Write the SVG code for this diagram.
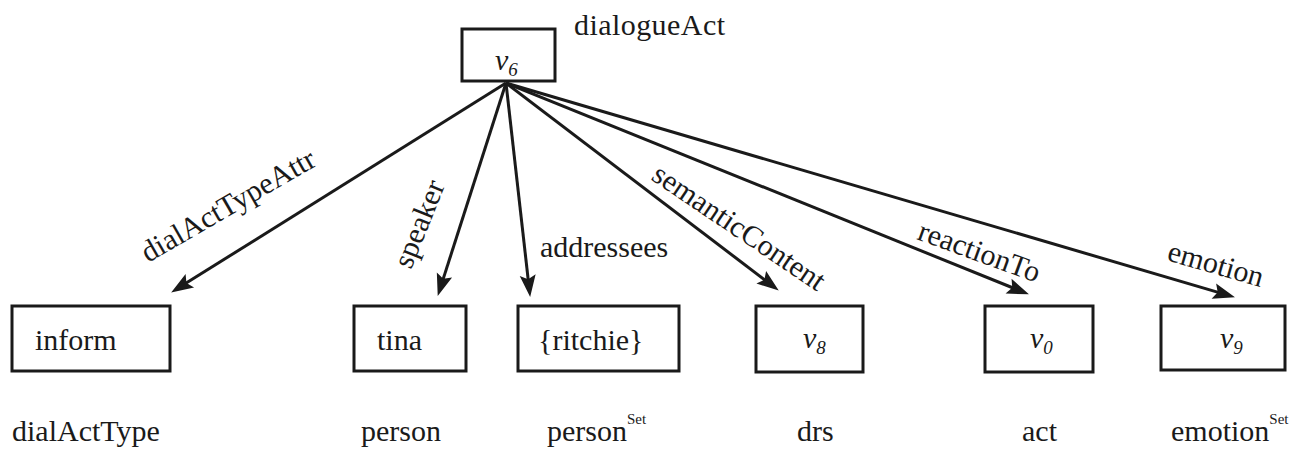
<svg xmlns="http://www.w3.org/2000/svg" width="1292" height="450" viewBox="0 0 1292 450">
<style>
text{font-family:"Liberation Serif","Times New Roman",serif;font-size:30px;fill:#1a1a1a}
.box{fill:#fff;stroke:#1a1a1a;stroke-width:3}
.edge{stroke:#1a1a1a;stroke-width:3;fill:none;marker-end:url(#ah)}
.it{font-style:italic}
.sub{font-style:italic;font-size:19px}
.sup{font-size:15px}
</style>
<defs>
<marker id="ah" markerUnits="userSpaceOnUse" markerWidth="24" markerHeight="18" refX="9" refY="8" orient="auto" overflow="visible">
<path d="M0,0 L22,8 L0,16 L4,8 z" fill="#1a1a1a"/>
</marker>
</defs>
<rect width="1292" height="450" fill="#fff"/>
<g id="connectors">
<line class="edge" x1="506" y1="83" x2="182.2" y2="285.6"/>
<line class="edge" x1="506" y1="83" x2="441.7" y2="283.6"/>
<line class="edge" x1="506" y1="83" x2="528.7" y2="284.1"/>
<line class="edge" x1="506" y1="83" x2="768.4" y2="282.7"/>
<line class="edge" x1="506" y1="83" x2="1016.9" y2="289.5"/>
<line class="edge" x1="506" y1="83" x2="1222.5" y2="293.6"/>
<text transform="translate(148,263) rotate(-30)">dialActTypeAttr</text>
<text transform="translate(411,270) rotate(-68)">speaker</text>
<text x="540" y="257">addressees</text>
<text transform="translate(650,179) rotate(34)">semanticContent</text>
<text transform="translate(916,239) rotate(20)">reactionTo</text>
<text transform="translate(1166,260) rotate(16)">emotion</text>
</g>
<g id="v6">
<rect class="box" x="462" y="29" width="93" height="52"/>
<text class="it" x="495" y="70">v<tspan class="sub" dy="6">6</tspan></text>
<text x="574" y="35" textLength="151">dialogueAct</text>
</g>
<g id="inform">
<rect class="box" x="12" y="306" width="158" height="65"/>
<text x="35" y="350">inform</text>
<text x="12" y="441">dialActType</text>
</g>
<g id="tina">
<rect class="box" x="354" y="306" width="112" height="65"/>
<text x="377" y="350">tina</text>
<text x="361" y="441">person</text>
</g>
<g id="ritchie">
<rect class="box" x="518" y="306" width="161" height="65"/>
<text x="538" y="350">{ritchie}</text>
<text x="547" y="441">person<tspan class="sup" dy="-17">Set</tspan></text>
</g>
<g id="v8">
<rect class="box" x="756" y="306" width="107" height="66"/>
<text class="it" x="803" y="348">v<tspan class="sub" dy="6">8</tspan></text>
<text x="797" y="441">drs</text>
</g>
<g id="v0">
<rect class="box" x="985" y="306" width="108" height="66"/>
<text class="it" x="1030" y="348">v<tspan class="sub" dy="6">0</tspan></text>
<text x="1022" y="441">act</text>
</g>
<g id="v9">
<rect class="box" x="1161" y="306" width="124" height="64"/>
<text class="it" x="1220" y="348">v<tspan class="sub" dy="6">9</tspan></text>
<text x="1171" y="441">emotion<tspan class="sup" dy="-17">Set</tspan></text>
</g>
</svg>
